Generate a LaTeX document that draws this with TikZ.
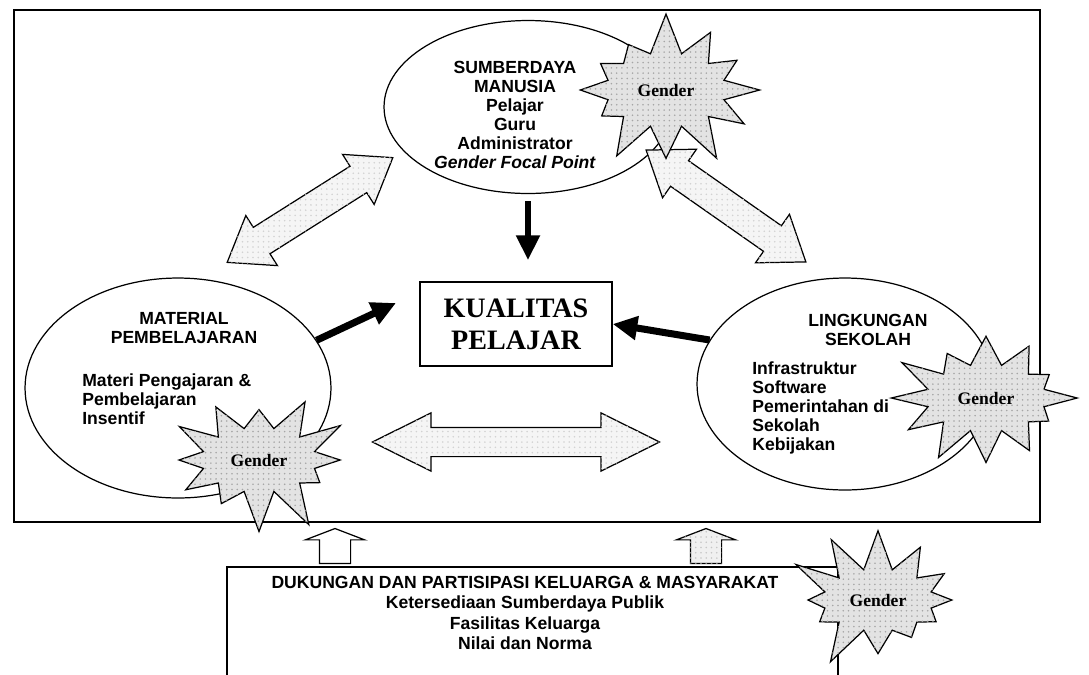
\documentclass[tikz,border=0pt]{standalone}
\usepackage{fontspec}
\setmainfont{Liberation Serif}
\setsansfont{Liberation Sans}
\usetikzlibrary{positioning}
\usetikzlibrary{arrows.meta}
\usetikzlibrary{shapes.geometric,shapes.symbols,shapes.arrows}
\usetikzlibrary{patterns}

\begin{document}
\begin{tikzpicture}[
    x=0.02cm, y=-0.02cm,
    oval/.style={ellipse, draw, line width=0.7pt, fill=white, inner sep=0pt},
    lbl/.style={font=\sffamily\bfseries\fontsize{10}{10.9}\selectfont, inner sep=0pt},
    burst/.style={starburst, starburst points=12, starburst point height=0.85cm, random starburst=#1,
        draw, line width=0.7pt, fill=gray!22, postaction={pattern=dots, pattern color=gray!70},
        inner sep=0pt, font=\rmfamily\bfseries\fontsize{10}{12}\selectfont},
    hollow/.style={double arrow, draw, line width=0.7pt, fill=gray!8, postaction={pattern=dots, pattern color=gray!35},
        inner xsep=0pt, inner ysep=0.3cm, double arrow head extend=0.28cm},
    uparrow/.style={single arrow, draw, line width=0.7pt, rotate=90, inner xsep=0pt, inner ysep=0.3cm,
        minimum height=0.7cm, single arrow head extend=0.28cm, single arrow tip angle=138},
    heavy/.style={-{Triangle[length=14pt,width=13pt]}, line width=4pt}
]
    \useasboundingbox (0,0) rectangle (1089,674);

    % outer frame and community box
    \draw[line width=1.1pt] (14,10) rectangle (1040,522);
    \draw[line width=0.8pt] (227,680) |- (838,567) -- (838,680);

    % the three areas
    \node[oval, minimum width=5.76cm, minimum height=3.46cm] (sdm) at (528,107) {};
    \node[oval, minimum width=6.12cm, minimum height=4.4cm] (lmat) at (178,388) {};
    \node[oval, minimum width=5.92cm, minimum height=4.24cm] (rling) at (845,384) {};

    \node[lbl, align=center] (sdmtext) at (515,115)
        {SUMBERDAYA\\MANUSIA\\Pelajar\\Guru\\Administrator\\\textit{Gender Focal Point}};
    \node[lbl, align=center] (lmathead) at (184,328) {MATERIAL\\PEMBELAJARAN};
    \node[lbl, align=left, anchor=west] (lmatbody) at (82,399)
        {Materi Pengajaran \&\\Pembelajaran\\Insentif};
    \node[lbl, align=center] (rlinghead) at (868,330) {LINGKUNGAN\\SEKOLAH};
    \node[lbl, align=left, anchor=west] (rlingbody) at (752,408)
        {Infrastruktur\\Software\\Pemerintahan di\\Sekolah\\Kebijakan};

    % centre
    \node[draw, line width=0.8pt, minimum width=3.84cm, minimum height=1.68cm, align=center,
        font=\rmfamily\bfseries\fontsize{16}{18.1}\selectfont] (kual) at (516,324) {KUALITAS\\PELAJAR};

    % two-way links
    \node[hollow, rotate=32.3, minimum height=3.92cm, double arrow tip angle=72] (linkl) at (310,210) {};
    \node[hollow, rotate=-35, minimum height=3.9cm, double arrow tip angle=72] (linkr) at (726,206) {};
    \node[hollow, inner ysep=0.28cm, double arrow head extend=0.29cm, minimum height=5.74cm,
        double arrow tip angle=53] (linkb) at (516,442) {};

    % effects on quality
    \coordinate (dtip) at (528,260);
    \coordinate (ltip) at (396,303);
    \draw[heavy, line width=3.2pt, shorten <=4pt] (sdm.south) -- (dtip);
    \draw[heavy] (lmat.19) -- (ltip);
    \draw[heavy] (rling.162) -- (kual.east);

    % support from below
    \node[uparrow, fill=white] (up1) at (335,549) {};
    \node[uparrow, fill=gray!12, postaction={pattern=dots, pattern color=gray!45}] (up2) at (706,549) {};
    \node[font=\sffamily\bfseries\fontsize{10}{11.6}\selectfont, align=center, inner sep=0pt] (dukung) at (525,613)
        {DUKUNGAN DAN PARTISIPASI KELUARGA \& MASYARAKAT\\Ketersediaan Sumberdaya Publik\\Fasilitas Keluarga\\Nilai dan Norma};

    % gender stars
    \node[burst=7, minimum width=4.1cm, minimum height=3.2cm] (gtop) at (666,90) {Gender};
    \node[burst=19, minimum width=4.0cm, minimum height=3.0cm] (gleft) at (259,460) {Gender};
    \node[burst=41, minimum width=4.1cm, minimum height=3.05cm] (gright) at (986,398) {Gender};
    \node[burst=63, minimum width=3.9cm, minimum height=2.95cm] (gbottom) at (878,600) {Gender};
\end{tikzpicture}
\end{document}
